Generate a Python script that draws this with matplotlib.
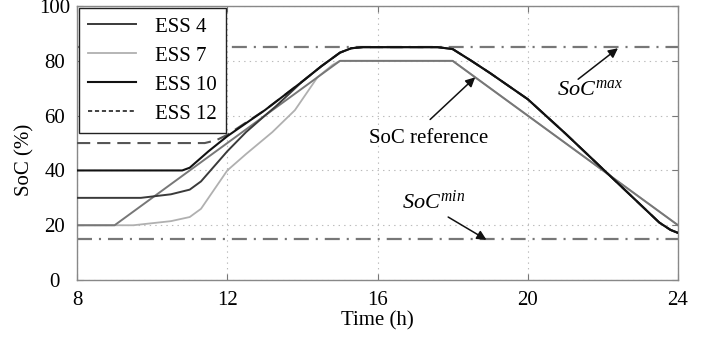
import numpy as np
import matplotlib
matplotlib.use('Agg')
import matplotlib.pyplot as plt
from matplotlib.lines import Line2D

plt.rcParams['font.family'] = ['Liberation Serif', 'DejaVu Serif']
plt.rcParams['mathtext.fontset'] = 'custom'
plt.rcParams['mathtext.rm'] = 'Liberation Serif'
plt.rcParams['mathtext.it'] = 'Liberation Serif:italic'
plt.rcParams['lines.scale_dashes'] = False

# SoC reference
t_ref = [8, 9, 15, 18, 24]
soc_ref = [20, 20, 80, 80, 20]

# common discharge of ESS 4 / 10 / 12
t_high = [15.6, 17.6, 18.0, 18.5, 19, 20, 21, 22, 23, 23.5, 23.8, 24]
soc_high = [85, 85, 84.3, 80, 75.5, 66, 53.5, 40.5, 27.5, 21, 18.3, 17.2]

# ESS 10
t_ess10 = [8, 10.8, 11, 11.5, 12, 13, 14, 14.5, 15, 15.3] + t_high
soc_ess10 = [40, 40, 41, 47, 52.5, 62, 72.5, 78, 83, 84.6] + soc_high

# ESS 4
t_ess4 = [8, 9.7, 10.5, 11, 11.3, 12, 12.5, 13, 13.3, 14, 14.5, 15, 15.3] + t_high
soc_ess4 = [30, 30, 31.3, 33, 36, 47, 54, 60, 63.5, 72.5, 78, 83, 84.6] + soc_high

# ESS 12
t_ess12 = [8, 11.4, 11.7, 12, 13, 14, 14.5, 15, 15.3] + t_high
soc_ess12 = [50, 50, 51, 53, 62, 72.5, 78, 83, 84.6] + soc_high

# ESS 7
t_ess7 = [8, 9.5, 10.5, 11, 11.3, 12, 12.5, 13.2, 13.8, 14.4, 14.8, 15, 18, 24]
soc_ess7 = [20, 20, 21.5, 23, 26, 40, 46, 54, 62, 74, 78.5, 80, 80, 20]

soc_max = 85
soc_min = 15

fig = plt.figure(figsize=(7.1, 3.37), dpi=100)
ax = fig.add_axes([0.1085, 0.169, 0.8465, 0.813])

dashdot = (0, (10.8, 5, 1.5, 5))
ax.axhline(soc_max, color='#777777', lw=1.6, ls=dashdot, zorder=1)
ax.axhline(soc_min, color='#777777', lw=1.6, ls=dashdot, zorder=1)

ax.plot(t_ess7, soc_ess7, color='#b0b0b0', lw=1.3, zorder=2)
ax.plot(t_ref, soc_ref, color='#777777', lw=1.4, zorder=3)
ax.plot(t_ess12, soc_ess12, color='#555555', lw=1.5, ls=(0, (9.5, 5)), zorder=3)
ax.plot(t_ess4, soc_ess4, color='#3a3a3a', lw=1.4, zorder=4)
ax.plot(t_ess10, soc_ess10, color='#111111', lw=1.5, zorder=5)

ax.set_xlim(8, 24)
ax.set_ylim(0, 100)
ax.set_xticks([8, 12, 16, 20, 24])
ax.set_yticks([0, 20, 40, 60, 80, 100])
ax.grid(True, color='#bbbbbb', ls=(0, (1, 3)), lw=0.8)
ax.tick_params(direction='in', length=4, labelsize=15, top=True, right=True,
               color='#777777')
ax.tick_params(axis='x', pad=8)
ax.tick_params(axis='y', pad=16)
for lab in ax.get_yticklabels():
    lab.set_horizontalalignment('center')
for s in ax.spines.values():
    s.set_color('#888888')
    s.set_linewidth(1.0)

ax.set_xlabel('Time (h)', fontsize=15)
ax.xaxis.set_label_coords(0.5, -0.113)
ax.set_ylabel('SoC (%)', fontsize=15)
ax.yaxis.set_label_coords(-0.07, 0.44)

handles = [Line2D([], [], color='#3a3a3a', lw=1.4),
           Line2D([], [], color='#b0b0b0', lw=1.3),
           Line2D([], [], color='#111111', lw=1.5),
           Line2D([], [], color='#333333', lw=1.3, ls=(0, (3, 2)))]
leg = ax.legend(handles, ['ESS 4', 'ESS 7', 'ESS 10', 'ESS 12'], loc='upper left',
                fontsize=15, frameon=True, fancybox=False, borderaxespad=0.08,
                handlelength=2.3, handletextpad=0.9, labelspacing=0.45, borderpad=0.45)
leg.get_frame().set_edgecolor('#222222')
leg.get_frame().set_linewidth(1.0)
leg.get_frame().set_alpha(1)

arrow = dict(arrowstyle='-|>', color='#111111', lw=1.1, mutation_scale=14,
             shrinkA=0, shrinkB=0)
ax.text(17.35, 51.6, 'SoC reference', fontsize=15, ha='center', va='center')
ax.annotate('', xy=(18.6, 74), xytext=(17.4, 58.6), arrowprops=arrow)
ax.text(21.65, 69.5, '$SoC^{max}$', fontsize=16, ha='center', va='center')
ax.annotate('', xy=(22.4, 84.6), xytext=(21.34, 73.3), arrowprops=arrow)
ax.text(17.5, 28.5, '$SoC^{min}$', fontsize=16, ha='center', va='center')
ax.annotate('', xy=(18.9, 14.7), xytext=(17.88, 23), arrowprops=arrow)

fig.savefig('out.png', dpi=100)
